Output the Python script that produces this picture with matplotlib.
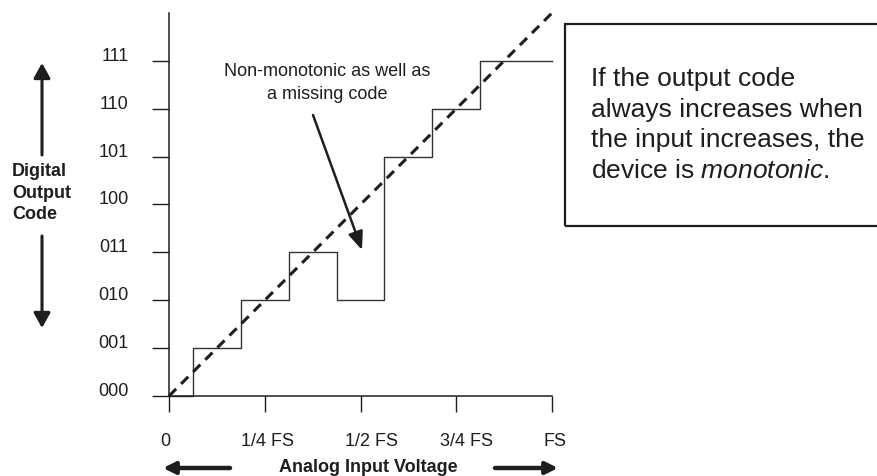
import matplotlib.pyplot as plt
import matplotlib.transforms as mtransforms
from matplotlib.patches import Rectangle

# transition points (fraction of full scale) and the code held after each one
edges = [0, 1/16, 3/16, 5/16, 7/16, 9/16, 11/16, 13/16, 1]
codes = [0, 1, 2, 3, 2, 5, 6, 7]
ideal_x = [0, 1]
ideal_code = [0, 8]
x_ticks = [0, 0.25, 0.5, 0.75, 1]
x_labels = ["0", "1/4 FS", "1/2 FS", "3/4 FS", "FS"]
y_labels = ["000", "001", "010", "011", "100", "101", "110", "111"]

plt.rcParams['font.family'] = ['Liberation Sans', 'DejaVu Sans']
plt.rcParams['mathtext.fontset'] = 'custom'
plt.rcParams['mathtext.rm'] = 'Liberation Sans'
plt.rcParams['mathtext.it'] = 'Liberation Sans:italic'

W, H = 878, 476
ink = '#1e1e1e'

def px(x, y):
    # image pixel (top-left origin) -> figure pixels
    return (x, H - y)

fig = plt.figure(figsize=(W / 100, H / 100), dpi=100)
ax = fig.add_axes([169 / W, (H - 396) / H, 383 / W, 383 / H])
ax.set_xlim(0, 1)
ax.set_ylim(0, 8)

ax.step(edges, codes + [codes[-1]], where='post', color='#333333', lw=1.0,
        clip_on=False)
ax.plot(ideal_x, ideal_code, color=ink, lw=2.2, dashes=(3.3, 2.3), clip_on=False)

for s in ['top', 'right']:
    ax.spines[s].set_visible(False)
for s in ['left', 'bottom']:
    ax.spines[s].set_color(ink)
    ax.spines[s].set_linewidth(1.1)

ax.set_xticks(x_ticks)
ax.set_xticklabels(x_labels, fontsize=13, color=ink)
ax.set_yticks(range(len(y_labels)))
ax.set_yticklabels(y_labels, fontsize=13, color=ink)
ax.tick_params(axis='y', length=12.2, width=1.0, pad=17, color=ink)
ax.tick_params(axis='x', length=11.5, width=1.0, pad=15, color=ink)
for lab in ax.get_yticklabels():
    lab.set_va('baseline')

# the hand-placed labels in the original sit a little off their ticks
label_shift = [-4, 3, 11, 10, 3]
for lab, dx in zip(ax.get_xticklabels(), label_shift):
    lab.set_transform(lab.get_transform() +
                      mtransforms.ScaledTranslation(dx / 100, 0, fig.dpi_scale_trans))

# axis captions
fig.text(12 / W, 1 - 193 / H, "Digital\nOutput\nCode", fontsize=13,
         fontweight='bold', ha='left', va='center', linespacing=1.38, color=ink)
fig.text(368 / W, 1 - 468 / H, "Analog Input Voltage", fontsize=13,
         fontweight='bold', ha='center', va='center', color=ink)

def arrow(tail, tip, lw, hl, hw):
    ax.annotate('', xy=px(*tip), xytext=px(*tail), xycoords='figure pixels',
                textcoords='figure pixels',
                arrowprops=dict(arrowstyle='-|>,head_length=%g,head_width=%g' % (hl, hw),
                                lw=lw, color=ink, shrinkA=0, shrinkB=0,
                                mutation_scale=10))

arrow((42, 155), (42, 63), 2.2, 0.9, 0.5)
arrow((42, 236), (42, 328), 2.2, 0.9, 0.5)
arrow((230, 468), (163, 468), 3.2, 0.7, 0.35)
arrow((495, 468), (558, 468), 3.2, 0.7, 0.35)
arrow((313, 115), (362, 250), 1.8, 1.1, 0.45)

fig.text(327 / W, 1 - 83 / H, "Non-monotonic as well as\na missing code",
         fontsize=13, ha='center', va='center', linespacing=1.44, color=ink)

# note box
fig.patches.append(Rectangle((565 / W, 1 - 226 / H), 330 / W, 202 / H,
                             transform=fig.transFigure, fill=False,
                             lw=1.6, edgecolor=ink))
fig.text(591 / W, 1 - 125 / H,
         "If the output code\nalways increases when\nthe input increases, the\n"
         r"device is $\mathit{monotonic}$.",
         fontsize=19, ha='left', va='center', linespacing=1.36, color=ink)

fig.savefig('out.png', dpi=100)
